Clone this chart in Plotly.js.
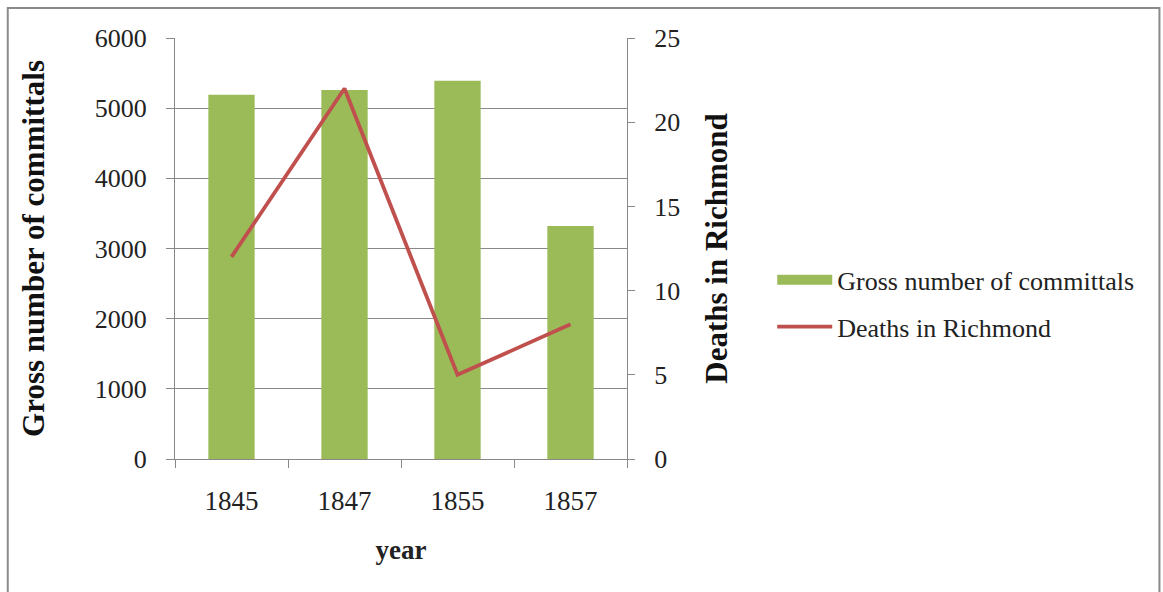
<!DOCTYPE html>
<html>
<head>
<meta charset="utf-8">
<script src="https://cdn.plot.ly/plotly-3.0.1.min.js"></script>
<style>
html,body{margin:0;padding:0;background:#fff;}
#chart{width:1163px;height:592px;}
</style>
</head>
<body>
<div id="chart"></div>
<script>
const years = ["1845", "1847", "1855", "1857"];
const committals = [5190, 5260, 5390, 3320];
const deaths = [12, 22, 5, 8];
const leftTicks = [0, 1000, 2000, 3000, 4000, 5000, 6000];
const rightTicks = [0, 5, 10, 15, 20, 25];

const serif = "Liberation Serif";
const green = "#9BBB59";
const red = "#C0504D";
const gray = "#888888";

const traces = [
  {
    type: "bar",
    x: years,
    y: committals,
    width: 0.41,
    marker: {color: green},
    name: "Gross number of committals",
    showlegend: false,
    hoverinfo: "x+y"
  },
  {
    type: "scatter",
    mode: "lines",
    x: [null],
    y: [null],
    line: {color: green, width: 15},
    name: "Gross number of committals",
    legendgroup: "a",
    hoverinfo: "skip"
  },
  {
    type: "scatter",
    mode: "lines",
    x: years,
    y: deaths,
    yaxis: "y2",
    line: {color: red, width: 3.8},
    name: "Deaths in Richmond",
    legendgroup: "b"
  }
];

const layout = {
  width: 1163,
  height: 592,
  margin: {l: 175, r: 536, t: 38, b: 133},
  paper_bgcolor: "#ffffff",
  plot_bgcolor: "#ffffff",
  font: {family: serif, size: 26, color: "#222"},
  showlegend: true,
  legend: {
    xref: "container", yref: "container",
    x: 0.664, y: 0.567, xanchor: "left", yanchor: "top",
    font: {family: serif, size: 26, color: "#222"},
    itemwidth: 55,
    traceorder: "grouped",
    tracegroupgap: 10,
    bgcolor: "rgba(0,0,0,0)"
  },
  xaxis: {
    type: "category",
    categoryorder: "array",
    categoryarray: years,
    showline: true, linecolor: gray, linewidth: 1,
    ticks: "outside", tickson: "boundaries", ticklen: 8, tickcolor: gray,
    ticklabelstandoff: 18,
    tickfont: {family: serif, size: 27, color: "#222"},
    title: {text: "<b>year</b>", font: {family: serif, size: 27, color: "#222"}, standoff: 24},
    showgrid: false, zeroline: false, fixedrange: true
  },
  yaxis: {
    range: [0, 6000],
    tickvals: leftTicks,
    showline: true, linecolor: gray, linewidth: 1,
    ticks: "outside", ticklen: 8, tickcolor: gray,
    ticklabelstandoff: 14,
    tickfont: {family: serif, size: 26, color: "#222"},
    showgrid: true, gridcolor: gray, gridwidth: 1,
    zeroline: false,
    title: {text: "<b>Gross number of committals</b>", font: {family: serif, size: 31, color: "#111"}, standoff: 40},
    fixedrange: true
  },
  yaxis2: {
    overlaying: "y",
    side: "right",
    range: [0, 25],
    tickvals: rightTicks,
    showline: true, linecolor: gray, linewidth: 1,
    ticks: "outside", ticklen: 7, tickcolor: gray,
    ticklabelstandoff: 14,
    tickfont: {family: serif, size: 26, color: "#222"},
    showgrid: false, zeroline: false,
    title: {text: "<b>Deaths in Richmond</b>", font: {family: serif, size: 31, color: "#111"}, standoff: 26},
    fixedrange: true
  },
  shapes: [
    {
      type: "rect", xref: "paper", yref: "paper",
      x0: -0.370, x1: 2.178, y0: -0.40, y1: 1.0713,
      line: {color: "#8a8a8a", width: 2},
      fillcolor: "rgba(0,0,0,0)",
      layer: "above"
    }
  ]
};

Plotly.newPlot("chart", traces, layout, {displayModeBar: false});
</script>
</body>
</html>
